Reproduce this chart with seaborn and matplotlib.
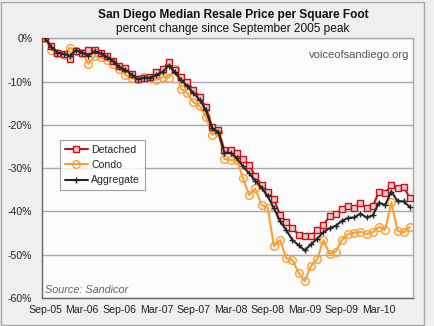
import numpy as np
import pandas as pd
import matplotlib
matplotlib.use("Agg")
import matplotlib.pyplot as plt
from matplotlib.patches import Rectangle
from matplotlib.ticker import FixedLocator, FuncFormatter
import seaborn as sns

months = pd.date_range("2005-09-01", periods=60, freq="MS").strftime("%b-%y").tolist()
tick_labels = ["Sep-05", "Mar-06", "Sep-06", "Mar-07", "Sep-07",
               "Mar-08", "Sep-08", "Mar-09", "Sep-09", "Mar-10"]
y_ticks = [0, -10, -20, -30, -40, -50, -60]

detached = [0, -1.8, -3.3, -3.7, -4.7, -3.0, -3.4, -2.7, -2.8, -3.3,
            -4.2, -5.2, -6.5, -6.8, -8.3, -9.5, -9.1, -9.0, -7.8, -7.2,
            -5.5, -7.4, -8.9, -10.1, -12.0, -13.5, -15.9, -20.5, -21.2, -25.8,
            -25.8, -26.6, -27.8, -29.2, -31.9, -33.8, -35.4, -37.2, -40.8, -42.5,
            -43.8, -45.4, -45.7, -45.6, -44.4, -43.2, -41.1, -40.7, -39.4, -38.8,
            -39.2, -38.0, -39.3, -38.8, -35.4, -35.8, -33.9, -34.7, -34.4, -36.9]

condo = [0, -2.6, -3.4, -3.8, -2.2, -2.9, -3.4, -5.9, -4.1, -4.4,
         -5.1, -5.9, -7.0, -8.4, -9.2, -9.4, -9.0, -9.1, -9.6, -8.9,
         -9.1, -7.0, -11.7, -12.7, -14.8, -15.6, -18.1, -22.3, -21.6, -27.9,
         -28.1, -28.1, -32.3, -36.2, -34.7, -38.5, -39.1, -48.0, -46.6, -50.8,
         -51.2, -54.2, -56.1, -52.6, -51.1, -46.6, -49.8, -49.3, -46.6, -45.2,
         -44.9, -44.7, -45.2, -44.8, -43.6, -44.2, -37.9, -44.5, -44.8, -43.6]

aggregate = [0, -2.0, -3.3, -3.6, -4.0, -2.8, -3.3, -4.0, -3.0, -3.5,
             -4.3, -5.3, -6.6, -7.3, -8.4, -9.5, -9.1, -9.1, -8.4, -7.8,
             -6.3, -7.8, -9.7, -11.0, -12.7, -14.2, -16.6, -20.8, -21.6, -26.4,
             -26.5, -27.7, -29.6, -31.2, -32.9, -34.5, -36.5, -39.2, -42.3, -44.3,
             -46.6, -47.8, -49.0, -47.6, -46.3, -44.8, -43.9, -43.3, -42.2, -41.5,
             -41.4, -40.5, -41.4, -40.9, -38.0, -38.5, -35.4, -37.6, -37.7, -39.0]

df = pd.DataFrame({"idx": np.arange(len(months)), "month": months,
                   "Detached": detached, "Condo": condo, "Aggregate": aggregate})

sns.set_theme(style="white")
plt.rcParams["font.family"] = ["Liberation Sans", "DejaVu Sans"]

fig = plt.figure(figsize=(4.34, 3.26), dpi=100)
fig.patch.set_facecolor("#efefef")
fig.patches.append(Rectangle((0.003, 0.004), 0.975, 0.99, transform=fig.transFigure,
                             fill=False, edgecolor="#a8a8a8", linewidth=1.0))

ax = fig.add_axes([42/434, 1-298/326, (413-42)/434, (298-38.3)/326])
ax.set_facecolor("#fbfbfb")

ax.yaxis.grid(True, color="#a9a9a9", linewidth=1.0)
ax.set_axisbelow(True)

sns.lineplot(data=df, x="idx", y="Detached", ax=ax, color="#c0141c", linewidth=1.5,
             linestyle="-", marker="s", markersize=4.5, markerfacecolor="#f3c6c6",
             markeredgecolor="#c0141c", markeredgewidth=1.0, label="Detached", zorder=3)
sns.lineplot(data=df, x="idx", y="Condo", ax=ax, color="#f7a035", linewidth=1.5,
             linestyle="-", marker="o", markersize=5.5, markerfacecolor="none",
             markeredgecolor="#f7a035", markeredgewidth=1.0, label="Condo", zorder=2)
sns.lineplot(data=df, x="idx", y="Aggregate", ax=ax, color="#262626", linewidth=1.5,
             linestyle="-", marker="+", markersize=5, markeredgewidth=1.0,
             markeredgecolor="#262626", label="Aggregate", zorder=4)

ax.set_xlim(-0.5, 59.5)
ax.set_ylim(-60, 0)
ax.set_xlabel("")
ax.set_ylabel("")

label_pos = [months.index(t) for t in tick_labels]
ax.set_xticks(label_pos)
ax.set_xticklabels(tick_labels, fontsize=7.6, color="#222222")
ax.tick_params(axis="x", length=0, pad=5)
ax.xaxis.set_minor_locator(FixedLocator(np.arange(-0.5, 60, 1)))
ax.tick_params(axis="x", which="minor", direction="in", length=3, color="#666666", width=0.8)

ax.set_yticks(y_ticks)
ax.yaxis.set_major_formatter(FuncFormatter(lambda v, p: f"{int(round(v))}%"))
ax.tick_params(axis="y", length=4, direction="out", color="#666666", labelsize=7.6,
               labelcolor="#222222", pad=3)

for side in ["left", "bottom"]:
    ax.spines[side].set_color("#666666")
    ax.spines[side].set_linewidth(1.0)
for side in ["top", "right"]:
    ax.spines[side].set_color("#a9a9a9")
    ax.spines[side].set_linewidth(1.0)

leg = ax.legend(loc="upper left", bbox_to_anchor=((60-42)/371, (298-140)/259.7),
                fontsize=7.6, frameon=True, fancybox=False, handlelength=2.2,
                handletextpad=0.3, borderpad=0.45, labelspacing=0.5, borderaxespad=0)
leg.get_frame().set_edgecolor("#888888")
leg.get_frame().set_facecolor("white")
leg.get_frame().set_linewidth(0.8)
for h in leg.get_lines():
    h.set_linestyle("-")

ax.text(0.99, 0.955, "voiceofsandiego.org", transform=ax.transAxes, ha="right", va="top",
        fontsize=8, color="#555555")
ax.text(0.008, 0.012, "Source: Sandicor", transform=ax.transAxes, ha="left", va="bottom",
        fontsize=7.8, color="#666666", style="italic")

fig.text(233/434, 1-15/326, "San Diego Median Resale Price per Square Foot", ha="center",
         va="center", fontsize=8.6, fontweight="bold", color="#111111")
fig.text(233/434, 1-29/326, "percent change since September 2005 peak", ha="center",
         va="center", fontsize=8.6, color="#111111")

fig.savefig("out.png", dpi=100, facecolor=fig.get_facecolor())
